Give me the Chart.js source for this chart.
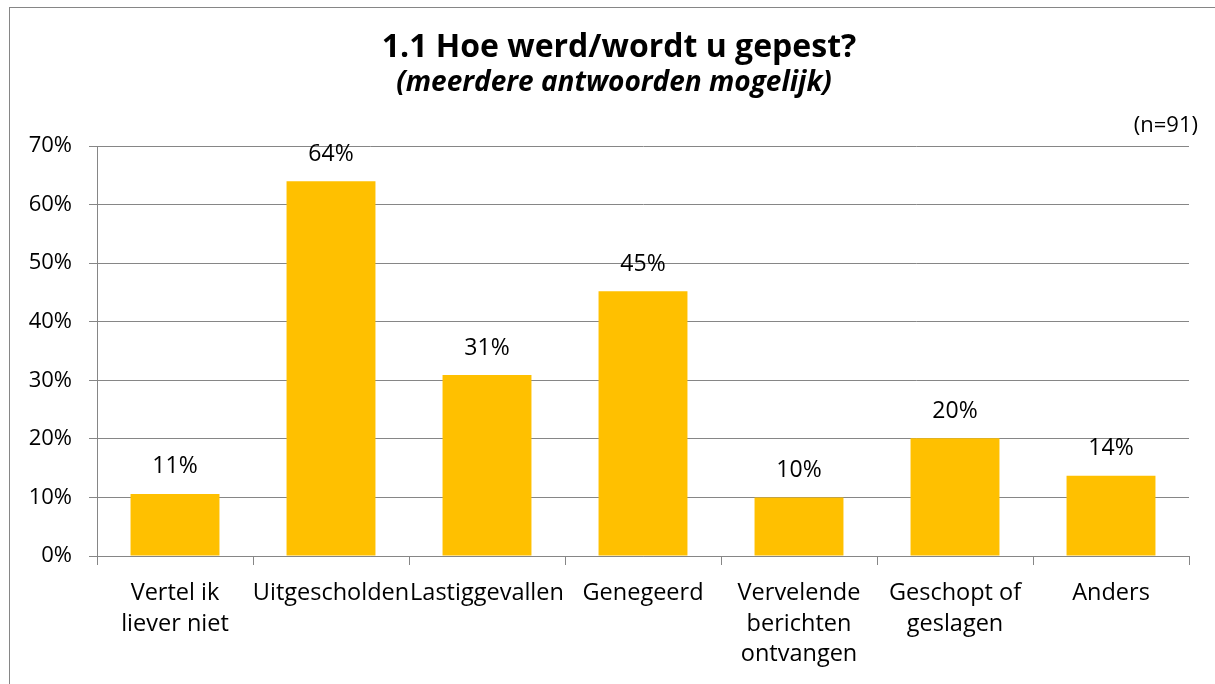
<!DOCTYPE html>
<html>
<head>
<meta charset="utf-8">
<title>Hoe werd/wordt u gepest?</title>
<script src="https://cdn.jsdelivr.net/npm/chart.js@4/dist/chart.umd.min.js"></script>
<style>
    body { margin: 0; background: #ffffff; }
    canvas { display: block; }
</style>
</head>
<body>
<canvas id="pestChart" width="1215" height="684"></canvas>
<script>
// Chart data
const categories = [
    ['Vertel ik', 'liever niet'],
    'Uitgescholden',
    'Lastiggevallen',
    'Genegeerd',
    ['Vervelende', 'berichten', 'ontvangen'],
    ['Geschopt of', 'geslagen'],
    'Anders'
];
const percentages = [10.6, 64.0, 30.9, 45.2, 10.0, 20.1, 13.7];
const yTicks = [0, 10, 20, 30, 40, 50, 60, 70];
const titleText = '1.1 Hoe werd/wordt u gepest?';
const subtitleText = '(meerdere antwoorden mogelijk)';
const sampleText = '(n=91)';

const FONT = "'Open Sans', sans-serif";
const GRID = '#868686';

// Frame, titles and sample size
const frameAndTitles = {
    id: 'frameAndTitles',
    beforeDraw(chart) {
        const c = chart.ctx;
        c.save();
        c.fillStyle = '#ffffff';
        c.fillRect(0, 0, chart.width, chart.height);
        c.strokeStyle = GRID;
        c.lineWidth = 1;
        c.strokeRect(9.5, 7.5, 1400, 900);
        c.restore();
    },
    afterDraw(chart) {
        const c = chart.ctx;
        c.save();
        c.fillStyle = '#000000';
        c.textAlign = 'center';
        c.textBaseline = 'alphabetic';
        c.font = 'bold 32px ' + FONT;
        c.fillText(titleText, 619, 57);
        c.font = 'italic bold 28px ' + FONT;
        c.fillText(subtitleText, 614, 91);
        c.textAlign = 'right';
        c.font = '22px ' + FONT;
        c.fillText(sampleText, 1198, 132);
        c.restore();
    }
};

// Percent labels above the bars
const barLabels = {
    id: 'barLabels',
    afterDatasetsDraw(chart) {
        const c = chart.ctx;
        const meta = chart.getDatasetMeta(0);
        c.save();
        c.fillStyle = '#000000';
        c.font = '23px ' + FONT;
        c.textAlign = 'center';
        c.textBaseline = 'middle';
        meta.data.forEach(function(bar, i) {
            c.fillText(Math.round(percentages[i]) + '%', bar.x, bar.y - 27);
        });
        c.restore();
    }
};

new Chart(document.getElementById('pestChart'), {
    type: 'bar',
    data: {
        labels: categories,
        datasets: [{
            data: percentages,
            backgroundColor: '#FFC000',
            borderWidth: 0,
            barPercentage: 0.57,
            categoryPercentage: 1.0
        }]
    },
    options: {
        responsive: false,
        animation: false,
        layout: {
            padding: { left: 10, right: 26, top: 146, bottom: 8 }
        },
        plugins: {
            legend: { display: false },
            tooltip: { enabled: false },
            title: { display: false }
        },
        scales: {
            x: {
                afterFit: function(scale) { scale.height = 120; },
                grid: {
                    offset: true,
                    drawOnChartArea: false,
                    color: GRID,
                    tickLength: 9
                },
                border: { color: GRID },
                ticks: {
                    color: '#000000',
                    padding: 13,
                    maxRotation: 0,
                    autoSkip: false,
                    font: { family: FONT, size: 23.5, lineHeight: 1.3 }
                }
            },
            y: {
                min: 0,
                max: 70,
                afterFit: function(scale) { scale.width = 87; },
                afterBuildTicks: function(scale) {
                    scale.ticks = yTicks.map(v => ({ value: v }));
                },
                grid: {
                    color: GRID,
                    tickLength: 8
                },
                border: { color: GRID },
                ticks: {
                    color: '#000000',
                    padding: 17,
                    font: { family: FONT, size: 22 },
                    callback: function(value) { return value + '%'; }
                }
            }
        }
    },
    plugins: [frameAndTitles, barLabels]
});
</script>
</body>
</html>
